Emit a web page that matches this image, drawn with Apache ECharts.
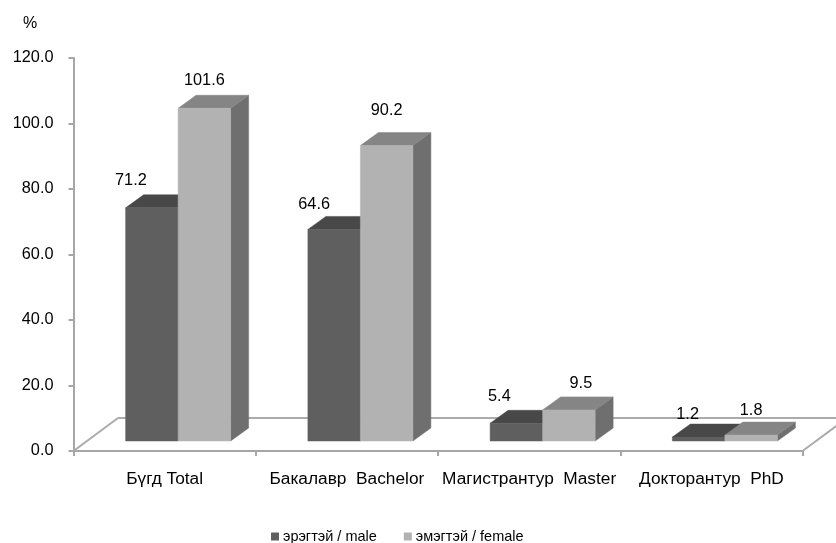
<!DOCTYPE html>
<html>
<head>
<meta charset="utf-8">
<style>html,body{margin:0;padding:0;background:#fff}#c{width:836px;height:543px}</style>
<script src="https://cdn.jsdelivr.net/npm/echarts@6/dist/echarts.min.js"></script>
</head>
<body>
<div id="c"></div>
<script>
const categories = ['Бүгд Total', 'Бакалавр  Bachelor', 'Магистрантур  Master', 'Докторантур  PhD'];
const male = [71.2, 64.6, 5.4, 1.2];
const female = [101.6, 90.2, 9.5, 1.8];
const yTicks = { min: 0, max: 120, interval: 20 };
const seriesNames = ['эрэгтэй / male', 'эмэгтэй / female'];

// layout constants
const FONT = '"Liberation Sans", Arial, sans-serif';
const barW = 52.5, depthX = 18, depthY = 13, baseLift = 10;
const floorX = 44.5, floorY = 33;
const maleNudge = [[-21, -27], [-20, -25], [-17, -27], [-11, -23]];
const femaleNudge = [[0, -28], [0, -35], [12, -26], [0, -25]];

function barSeries(name, values, shift, nudge, front, top, side) {
  return {
    name, type: 'custom', z: 3,
    itemStyle: { color: front },
    data: values.map((v, i) => [i, v]),
    encode: { x: 0, y: 1 },
    renderItem(params, api) {
      const i = api.value(0), v = api.value(1);
      const p = api.coord([i, v]);
      const x0 = p[0] + shift, x1 = x0 + barW;
      const yt = p[1] - baseLift;
      const yb = api.coord([i, 0])[1] - baseLift;
      const poly = (pts, fill) => ({ type: 'polygon', shape: { points: pts }, style: { fill, stroke: fill, lineWidth: 0.5 } });
      return {
        type: 'group',
        children: [
          poly([[x1, yb], [x1 + depthX, yb - depthY], [x1 + depthX, yt - depthY], [x1, yt]], side),
          poly([[x0, yt], [x0 + depthX, yt - depthY], [x1 + depthX, yt - depthY], [x1, yt]], top),
          poly([[x0, yb], [x1, yb], [x1, yt], [x0, yt]], front),
          { type: 'text', z2: 10, style: {
              x: x0 + barW / 2 + nudge[i][0], y: yt + nudge[i][1],
              text: v.toFixed(1), fill: '#000', font: '16.3px ' + FONT,
              align: 'center', verticalAlign: 'middle' } }
        ]
      };
    }
  };
}

const floorSeries = {
  type: 'custom', z: 1, silent: true, data: [[0, 0]], encode: { x: 0, y: 1 },
  renderItem(params, api) {
    const y0 = api.coord([0, 0])[1];
    const half = api.size([1, 0])[0] / 2;
    const xl = api.coord([0, 0])[0] - half;
    const xr = api.coord([categories.length - 1, 0])[0] + half;
    const line = (a, b, c, d) => ({ type: 'line', shape: { x1: a, y1: b, x2: c, y2: d }, style: { stroke: '#ababab', lineWidth: 2 } });
    return { type: 'group', children: [
      line(xl, y0, xl + floorX, y0 - floorY),
      line(xl + floorX, y0 - floorY, xr + floorX, y0 - floorY),
      line(xr, y0, xr + floorX, y0 - floorY)
    ] };
  }
};

const axisLine = { show: true, lineStyle: { color: '#a6a6a6', width: 2 } };
const chart = echarts.init(document.getElementById('c'), null, { renderer: 'canvas' });
chart.setOption({
  animation: false,
  backgroundColor: '#fff',
  title: { text: '%', left: 18, top: 11, textStyle: { fontFamily: FONT, fontSize: 16, fontWeight: 'normal', color: '#000' } },
  grid: { left: 73.5, top: 58, width: 729, height: 393, containLabel: false },
  legend: {
    data: seriesNames, left: 266, top: 524, itemWidth: 8, itemHeight: 8, itemGap: 27,
    icon: 'rect', textStyle: { fontFamily: FONT, fontSize: 14.5, color: '#000', padding: [0, 0, 0, -1] }
  },
  xAxis: {
    type: 'category', data: categories,
    axisLine, axisTick: { show: true, length: 5, alignWithLabel: false, lineStyle: { color: '#a6a6a6', width: 2 } },
    axisLabel: { fontFamily: FONT, fontSize: 17.3, color: '#000', margin: 20, interval: 0 }
  },
  yAxis: {
    type: 'value', min: yTicks.min, max: yTicks.max, interval: yTicks.interval,
    splitLine: { show: false },
    axisLine, axisTick: { show: true, length: 5, lineStyle: { color: '#a6a6a6', width: 2 } },
    axisLabel: { fontFamily: FONT, fontSize: 16.3, color: '#000', margin: 20, formatter: v => v.toFixed(1) }
  },
  series: [
    floorSeries,
    barSeries(seriesNames[0], male, -39, maleNudge, '#5f5f5f', '#484848', '#4e4e4e'),
    barSeries(seriesNames[1], female, 13.5, femaleNudge, '#b2b2b2', '#858585', '#6f6f6f')
  ]
});
</script>
</body>
</html>
